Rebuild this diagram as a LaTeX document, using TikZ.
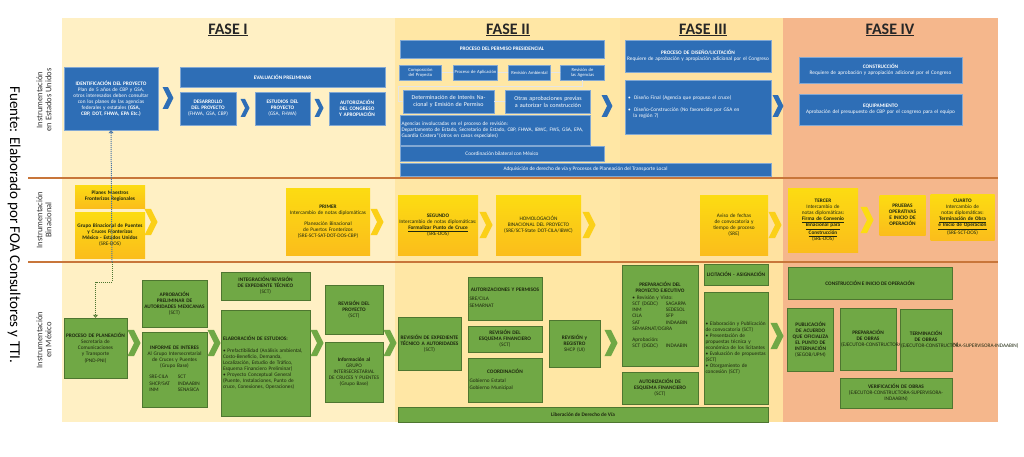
\documentclass[tikz,border=0pt]{standalone}
\usepackage{fontspec}
\setmainfont{Carlito}
\usetikzlibrary{arrows.meta}
\definecolor{F1}{RGB}{255,240,196}
\definecolor{F2}{RGB}{255,231,165}
\definecolor{F3}{RGB}{255,226,160}
\definecolor{F4}{RGB}{245,183,140}
\definecolor{B1}{RGB}{46,110,182}
\definecolor{G1}{RGB}{112,168,69}
\definecolor{Y1}{RGB}{250,196,30}
\definecolor{LN}{RGB}{200,118,58}
\definecolor{TX}{RGB}{30,40,15}
\newcommand\nohyph{\hyphenpenalty 10000 \exhyphenpenalty 10000 }
\tikzset{
  base/.style={inner sep=1pt, align=center, font=\fontsize{5.3}{6.1}\selectfont\nohyph},
  bluebox/.style={base, fill=B1, draw=B1!60!white, line width=0.4pt, text=white},
  greenbox/.style={base, fill=G1, draw=G1!70!black, line width=0.4pt, text=TX},
  goldbox/.style={base, top color=Y1!60!yellow, bottom color=Y1!90!orange, draw=none, text=TX},
  chev/.pic={\fill[pic actions] (-6,-12)--(0,-12)--(6,0)--(0,12)--(-6,12)--(0,0)--cycle;},
  rowline/.style={LN, line width=1.6pt},
  rowlabel/.style={rotate=90, align=center, font=\fontsize{8.5}{9}\selectfont, text=black!80},
  fasetitle/.style={font=\fontsize{16}{16}\selectfont\bfseries, text=black!85},
  dotarrow/.style={densely dotted, line width=1pt, -{Triangle[open,length=3pt,width=5pt]}},
  thinarrow/.style={white!80!gray, line width=0.5pt, -{Stealth[length=2pt]}}
}
\begin{document}
\begin{tikzpicture}[x=1pt, y=-1pt]
  \useasboundingbox (0,0) rectangle (1024,457);
  \fill[white] (0,0) rectangle (1024,457);
  % phase panels
  \fill[F1] (62,18) rectangle (395,422);
  \fill[F2] (395,18) rectangle (620,422);
  \fill[F3] (620,18) rectangle (783,422);
  \fill[F4] (783,18) rectangle (998,422);
  \draw[rowline] (28,178) -- (998,178);
  \draw[rowline] (28,262) -- (998,262);
  \node[fasetitle] (f1) at (228,30) {\underline{FASE I}};
  \node[fasetitle] (f2) at (508,30) {\underline{FASE II}};
  \node[fasetitle] (f3) at (703,30) {\underline{FASE III}};
  \node[fasetitle] (f4) at (890,30) {\underline{FASE IV}};
  \node[rowlabel] (rus) at (44,100) {Instrumentación\\en Estados Unidos};
  \node[rowlabel] (rbi) at (44,220) {Instrumentación\\Binacional};
  \node[rowlabel] (rmx) at (44,340) {Instrumentación\\en México};
  \node[rotate=-90, font=\fontsize{15}{15}\selectfont] (src) at (14,225) {Fuente: Elaborado por FOA Consultores y TTI.};

  % Estados Unidos
  \node[bluebox, minimum width=94, minimum height=63, text width=91] (ident) at (111,98.5) {\textbf{IDENTIFICACIÓN DEL PROYECTO}\\Plan de 5 años de CBP y GSA, otros interesados deben consultar con los planes de las agencias federales y estatales \textbf{(GSA, CBP, DOT, FHWA, EPA Etc.)}};
  \node[bluebox, minimum width=205, minimum height=20] (eval) at (282.5,77) {\textbf{EVALUACIÓN PRELIMINAR}};
  \node[bluebox, minimum width=56, minimum height=33, text width=54] (desa) at (208,108.5) {\textbf{DESARROLLO DEL PROYECTO}\\(FHWA, GSA, CBP)};
  \node[bluebox, minimum width=55, minimum height=33, text width=53] (estu) at (282.5,108.5) {\textbf{ESTUDIOS DEL PROYECTO}\\(GSA, FHWA)};
  \node[bluebox, minimum width=56, minimum height=33, text width=54] (auto) at (357,108.5) {\textbf{AUTORIZACIÓN DEL CONGRESO Y APROPIACIÓN}};
  \pic[fill=B1, scale=0.9] at (168,98) {chev};
  \pic[fill=B1, scale=0.75] at (245,108) {chev};
  \pic[fill=B1, scale=0.75] at (319,108) {chev};

  \node[bluebox, minimum width=204, minimum height=18] (perm) at (502,49) {\textbf{PROCESO DEL PERMISO PRESIDENCIAL}};
  \node[bluebox, minimum width=41, minimum height=15, text width=40, font=\fontsize{4.6}{5.2}\selectfont] (pa) at (420.5,72.5) {Composición del Proyecto};
  \node[bluebox, minimum width=43, minimum height=15, text width=42, font=\fontsize{4.6}{5.2}\selectfont] (pb) at (475.5,72.5) {Proceso de Aplicación};
  \node[bluebox, minimum width=41, minimum height=15, text width=40, font=\fontsize{4.6}{5.2}\selectfont] (pc) at (529.5,72.5) {Revisión Ambiental};
  \node[bluebox, minimum width=43, minimum height=15, text width=42, font=\fontsize{4.6}{5.2}\selectfont] (pd) at (582.5,72.5) {Revisión de las Agencias};
  \draw[thinarrow] (pa) -- (pb);
  \draw[thinarrow] (pb) -- (pc);
  \draw[thinarrow] (pc) -- (pd);
  \node[bluebox, minimum width=91, minimum height=23, text width=89, font=\fontsize{6}{7}\selectfont] (dete) at (448.5,101.5) {Determinación de Interés Nacional y Emisión de Permiso};
  \node[bluebox, minimum width=84, minimum height=23, text width=83, font=\fontsize{6}{7}\selectfont] (otra) at (548,101.5) {Otras aprobaciones previas a autorizar la construcción};
  \coordinate (pturn) at (398,86);
  \draw[thinarrow] (pd.south) |- (pturn) |- (dete.west);
  \draw[thinarrow] (dete) -- (otra);
  \node[bluebox, minimum width=190, minimum height=30, text width=187, align=left] (agen) at (495,130) {Agencias involucradas en el proceso de revisión:\\Departamento de Estado, Secretario de Estado, CBP, FHWA, IBWC, FWS, GSA, EPA, Guardia Costera*(otros en casos especiales)};
  \node[bluebox, minimum width=204, minimum height=15] (coor) at (502,153.5) {Coordinación bilateral con México};
  \node[bluebox, minimum width=371, minimum height=13] (adqu) at (585.5,169.5) {Adquisición de derecho de vía y Procesos de Planeación del Transporte Local};
  \pic[fill=B1, scale=0.9] at (607,106) {chev};

  \node[bluebox, minimum width=146, minimum height=32, text width=142] (dise) at (698,56) {\textbf{PROCESO DE DISEÑO/LICITACIÓN}\\Requiere de aprobación y apropiación adicional por el Congreso};
  \node[bluebox, minimum width=146, minimum height=54, text width=140, align=left] (dfin) at (698,107) {\textbullet\ \ Diseño Final (Agencia que propuso el cruce)\\[6pt]\textbullet\ \ Diseño-Construcción (No favorecido por GSA en\\\ \ \ la región 7)};
  \pic[fill=B1, scale=0.9] at (778,106) {chev};

  \node[bluebox, minimum width=163, minimum height=26, text width=159] (cons) at (880.5,70) {\textbf{CONSTRUCCIÓN}\\Requiere de aprobación y apropiación adicional por el Congreso};
  \node[bluebox, minimum width=163, minimum height=31, text width=159] (equi) at (880.5,109.5) {\textbf{EQUIPAMIENTO}\\Aprobación del presupuesto de CBP por el congreso para el equipo};

  % Binacional
  \node[goldbox, minimum width=70, minimum height=23, text width=68] (plan) at (110,196.5) {\textbf{Planes Maestros Fronterizos Regionales}};
  \node[goldbox, minimum width=70, minimum height=46, text width=68] (grup) at (110,235) {\textbf{Grupo Binacional de Puentes y Cruces Fronterizos México - Estados Unidos}\\(SRE-DOS)};
  \pic[fill=Y1!80!yellow, scale=1.1] at (151,222) {chev};
  \node[goldbox, minimum width=84, minimum height=67, text width=82] (prim) at (328,221.5) {\textbf{PRIMER}\\Intercambio de notas diplomáticas\\[5pt]Planeación Binacional de Puertos Fronterizos\\(SRE-SCT-SAT-DOT-DOS-CBP)};
  \pic[fill=Y1!80!yellow, scale=1.1] at (377,222) {chev};
  \node[goldbox, minimum width=80, minimum height=60, text width=78] (segu) at (438,225) {\textbf{SEGUNDO}\\Intercambio de notas diplomáticas:\\\textbf{\underline{Formalizar Punto de Cruce}}\\(SRE-DOS)};
  \pic[fill=Y1!80!yellow, scale=1.1] at (486,225) {chev};
  \node[goldbox, minimum width=85, minimum height=60, text width=83] (homo) at (538.5,225) {HOMOLOGACIÓN BINACIONAL DEL PROYECTO\\(SRE/SCT-State DOT-CILA/IBWC)};
  \pic[fill=Y1!80!yellow, scale=1.1] at (589,225) {chev};
  \node[goldbox, minimum width=68, minimum height=60, text width=66] (avis) at (734,225) {Aviso de fechas de convocatoria y tiempo de proceso\\(SRE)};
  \pic[fill=Y1!80!yellow, scale=1.1] at (775,225) {chev};
  \node[goldbox, minimum width=70, minimum height=64, text width=68] (terc) at (823,220) {\textbf{TERCER}\\Intercambio de notas diplomáticas:\\\textbf{\underline{Firma de Convenio}}\\\textbf{\underline{Binacional para}}\\\textbf{\underline{Construcción}}\\(SRE-DOS)};
  \pic[fill=Y1!60!yellow, scale=1.1] at (867,220) {chev};
  \node[goldbox, minimum width=45, minimum height=40, text width=44] (prue) at (902.5,215) {\textbf{PRUEBAS OPERATIVAS E INICIO DE OPERACIÓN}};
  \node[goldbox, minimum width=63, minimum height=46, text width=62] (cuar) at (962.5,217) {\textbf{CUARTO}\\Intercambio de notas diplomáticas:\\\textbf{\underline{Terminación de Obra}}\\\textbf{\underline{e Inicio de Operación}}\\(SRE-SCT-DOS)};

  % Mexico
  \node[greenbox, minimum width=63, minimum height=60, text width=61] (ppla) at (95.5,348) {\textbf{PROCESO DE PLANEACIÓN}\\Secretaría de Comunicaciones y Transporte\\(PND-PNI)};
  \coordinate (dmid) at (112,262);
  \draw[dotarrow, B1!70!gray] (dmid) -- (ident.south);
  \draw[dotarrow, G1!70!black] (dmid) -- ++(0,20) -| (ppla.north);
  \pic[fill=G1, scale=1.1] at (134,343) {chev};
  \node[greenbox, minimum width=65, minimum height=47, text width=63] (apro) at (174.5,303.5) {\textbf{APROBACIÓN PRELIMINAR DE AUTORIDADES MEXICANAS}\\(SCT)};
  \node[greenbox, minimum width=65, minimum height=75, text width=63] (info) at (174.5,369.5) {\textbf{INFORME DE INTERES}\\Al Grupo Intersecretarial de Cruces y Puentes (Grupo Base)\\[5pt]\begin{tabular}{@{}l@{\hspace{8pt}}l@{}}SRE-CILA & SCT\\SHCP/SAT & INDAABIN\\INM & SENASICA\end{tabular}};
  \pic[fill=G1, scale=1.1] at (214,343) {chev};
  \node[greenbox, minimum width=89, minimum height=28, text width=87] (inte) at (265.5,286) {\textbf{INTEGRACIÓN/REVISIÓN DE EXPEDIENTE TÉCNICO}\\(SCT)};
  \node[greenbox, minimum width=89, minimum height=106, text width=85, align=left] (elab) at (265.5,363) {\textbf{ELABORACIÓN DE ESTUDIOS:}\\[5pt]\textbullet\ Prefactibilidad (Análisis ambiental, Costo-Beneficio, Demanda, Localización, Estudio de Tráfico, Esquema Financiero Preliminar)\\\textbullet\ Proyecto Conceptual General (Puente, Instalaciones, Punto de cruce, Conexiones, Operaciones)};
  \pic[fill=G1, scale=1.1] at (317,343) {chev};
  \node[greenbox, minimum width=58, minimum height=49, text width=56] (revp) at (354,309.5) {\textbf{REVISIÓN DEL PROYECTO}\\(SCT)};
  \node[greenbox, minimum width=58, minimum height=60, text width=56] (inab) at (354,372) {\textbf{Información al}\\GRUPO INTERSECRETARIAL DE CRUCES Y PUENTES\\(Grupo Base)};
  \pic[fill=G1, scale=1.1] at (390,343) {chev};
  \node[greenbox, minimum width=63, minimum height=53, text width=61] (rexp) at (429.5,343.5) {\textbf{REVISIÓN DE EXPEDIENTE TÉCNICO A AUTORIDADES}\\(SCT)};
  \node[greenbox, minimum width=74, minimum height=43, text width=71] (auzp) at (505,298.5) {\textbf{AUTORIZACIONES Y PERMISOS}\\[4pt]\begin{tabular}{@{}l@{}}SRE/CILA\\SEMARNAT\end{tabular}\hfill\null};
  \node[greenbox, minimum width=74, minimum height=26, text width=71] (resq) at (505,339) {\textbf{REVISIÓN DEL ESQUEMA FINANCIERO}\\(SCT)};
  \node[greenbox, minimum width=74, minimum height=44, text width=71] (coom) at (505,380) {\textbf{COORDINACIÓN}\\[4pt]\begin{tabular}{@{}l@{}}Gobierno Estatal\\Gobierno Municipal\end{tabular}\hfill\null};
  \node[greenbox, minimum width=51, minimum height=47, text width=49] (rreg) at (574.5,343.5) {\textbf{REVISIÓN y REGISTRO}\\SHCP (UI)};
  \pic[fill=G1, scale=1.1] at (611,343) {chev};
  \node[greenbox, minimum width=370, minimum height=15] (libe) at (583,414.5) {\textbf{Liberación de Derecho de Vía}};
  \node[greenbox, minimum width=76, minimum height=101, text width=74] (pejc) at (660,315.5) {\textbf{PREPARACIÓN DEL PROYECTO EJECUTIVO}\\[2pt]\begin{tabular}{@{}l@{\hspace{8pt}}l@{}}\multicolumn{2}{@{}l@{}}{\textbullet\ Revisión y Visto:}\\SCT (DGDC) & SAGARPA\\INM & SEDESOL\\CILA & SFP\\SAT & INDAABIN\\\multicolumn{2}{@{}l@{}}{SEMARNAT/DGIRA}\\[5pt]\multicolumn{2}{@{}l@{}}{Aprobación:}\\SCT (DGDC) & INDAABIN\end{tabular}};
  \node[greenbox, minimum width=76, minimum height=32, text width=74] (aesq) at (660,388) {\textbf{AUTORIZACIÓN DE ESQUEMA FINANCIERO}\\(SCT)};
  \node[greenbox, minimum width=64, minimum height=21, text width=62] (lici) at (736,274.5) {\textbf{LICITACIÓN - ASIGNACIÓN}};
  \node[greenbox, minimum width=64, minimum height=112, text width=61, align=left] (lele) at (736,348) {\textbullet\ Elaboración y Publicación de convocatoria (SCT)\\\textbullet\ Presentación de propuestas técnica y económica de los licitantes\\\textbullet\ Evaluación de propuestas (SCT)\\\textbullet\ Otorgamiento de concesión (SCT)};
  \pic[fill=G1, scale=1.1] at (777,336) {chev};
  \node[greenbox, minimum width=164, minimum height=32] (cini) at (870,283) {\textbf{CONSTRUCCIÓN E INICIO DE OPERACIÓN}};
  \node[greenbox, minimum width=45, minimum height=63, text width=44] (publ) at (810.5,339.5) {\textbf{PUBLICACIÓN DE ACUERDO QUE OFICIALIZA EL PUNTO DE INTERNACIÓN}\\(SEGOB/UPM)};
  \node[greenbox, minimum width=56, minimum height=62, text width=54] (pobr) at (868,339) {\textbf{PREPARACIÓN DE OBRAS}\\(EJECUTOR-CONSTRUCTORA-SUPERVISORA-INDAABIN)};
  \node[greenbox, minimum width=52, minimum height=62, text width=50] (tobr) at (926,340) {\textbf{TERMINACIÓN DE OBRAS}\\(EJECUTOR-CONSTRUCTORA-SUPERVISORA-INDAABIN)};
  \node[greenbox, minimum width=112, minimum height=30, text width=108] (vobr) at (896,393) {\textbf{VERIFICACIÓN DE OBRAS}\\(EJECUTOR-CONSTRUCTORA-SUPERVISORA- INDAABIN)};
\end{tikzpicture}
\end{document}
